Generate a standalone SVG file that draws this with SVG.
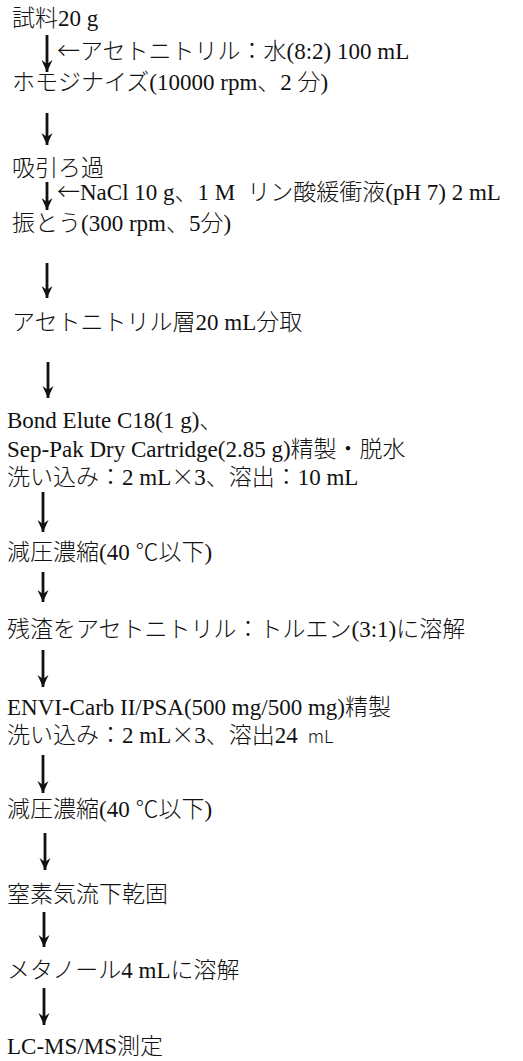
<svg xmlns="http://www.w3.org/2000/svg" width="523" height="1061" viewBox="0 0 523 1061">
<style>
text{font-family:"Liberation Serif","Noto Sans CJK JP",serif;font-size:23px;fill:#111}
.j{font-family:"Noto Sans CJK JP",sans-serif;font-weight:300}
.c line{stroke:#111;stroke-width:2.8}
</style>
<defs>
<marker id="ah" markerUnits="userSpaceOnUse" markerWidth="14" markerHeight="14" refX="12" refY="7" orient="auto" viewBox="0 0 14 14">
<path d="M0,1.5 L12,7 L0,12.5 L4,7 Z" fill="#111"/>
</marker>
</defs>
<rect width="523" height="1061" fill="#fff"/>
<g class="c" id="connectors">
<line x1="47" y1="35" x2="47" y2="72" marker-end="url(#ah)"/>
<line x1="47" y1="113" x2="47" y2="145" marker-end="url(#ah)"/>
<line x1="47" y1="182" x2="47" y2="210" marker-end="url(#ah)"/>
<line x1="47" y1="263" x2="47" y2="298" marker-end="url(#ah)"/>
<line x1="48" y1="362" x2="48" y2="398" marker-end="url(#ah)"/>
<line x1="43" y1="492" x2="43" y2="532" marker-end="url(#ah)"/>
<line x1="43" y1="572" x2="43" y2="602" marker-end="url(#ah)"/>
<line x1="43" y1="650" x2="43" y2="687" marker-end="url(#ah)"/>
<line x1="43" y1="755" x2="43" y2="793" marker-end="url(#ah)"/>
<line x1="45" y1="833" x2="45" y2="870" marker-end="url(#ah)"/>
<line x1="44" y1="912" x2="44" y2="947" marker-end="url(#ah)"/>
<line x1="44" y1="988" x2="44" y2="1025" marker-end="url(#ah)"/>
</g>
<g id="n1"><text x="12" y="26"><tspan class="j">試料</tspan>20 g</text></g>
<g id="l1"><text x="57" y="59"><tspan class="j">←アセトニトリル：水</tspan>(8:2) 100 mL</text></g>
<g id="n2"><text x="12" y="90"><tspan class="j">ホモジナイズ</tspan>(10000 rpm<tspan class="j">、</tspan>2 <tspan class="j">分</tspan>)</text></g>
<g id="n3"><text x="12" y="176" class="j">吸引ろ過</text></g>
<g id="l2"><text x="57" y="200"><tspan class="j">←</tspan>NaCl 10 g<tspan class="j">、</tspan>1 M<tspan dx="12" class="j">リン酸緩衝液</tspan>(pH 7) 2 mL</text></g>
<g id="n4"><text x="12" y="231"><tspan class="j">振とう</tspan>(300 rpm<tspan class="j">、</tspan>5<tspan class="j">分</tspan>)</text></g>
<g id="n5"><text x="12" y="330"><tspan class="j">アセトニトリル層</tspan>20 mL<tspan class="j">分取</tspan></text></g>
<g id="n6"><text x="7" y="428">Bond Elute C18(1 g)<tspan class="j">、</tspan></text><text x="7" y="457">Sep-Pak Dry Cartridge(2.85 g)<tspan class="j">精製・脱水</tspan></text><text x="7" y="485"><tspan class="j">洗い込み：</tspan>2 mL<tspan class="j">×</tspan>3<tspan class="j">、溶出：</tspan>10 mL</text></g>
<g id="n7"><text x="7" y="560"><tspan class="j">減圧濃縮</tspan>(40 <tspan class="j">℃以下</tspan>)</text></g>
<g id="n8"><text x="7" y="637"><tspan class="j">残渣をアセトニトリル：トルエン</tspan>(3:1)<tspan class="j">に溶解</tspan></text></g>
<g id="n9"><text x="7" y="715">ENVI-Carb II/PSA(500 mg/500 mg)<tspan class="j">精製</tspan></text><text x="7" y="743"><tspan class="j">洗い込み：</tspan>2 mL<tspan class="j">×</tspan>3<tspan class="j">、溶出</tspan>24<tspan dx="10" class="j" font-size="18">mL</tspan></text></g>
<g id="n10"><text x="7" y="817"><tspan class="j">減圧濃縮</tspan>(40 <tspan class="j">℃以下</tspan>)</text></g>
<g id="n11"><text x="7" y="902" class="j">窒素気流下乾固</text></g>
<g id="n12"><text x="7" y="978"><tspan class="j">メタノール</tspan>4 mL<tspan class="j">に溶解</tspan></text></g>
<g id="n13"><text x="7" y="1054">LC-MS/MS<tspan class="j">測定</tspan></text></g>
</svg>
